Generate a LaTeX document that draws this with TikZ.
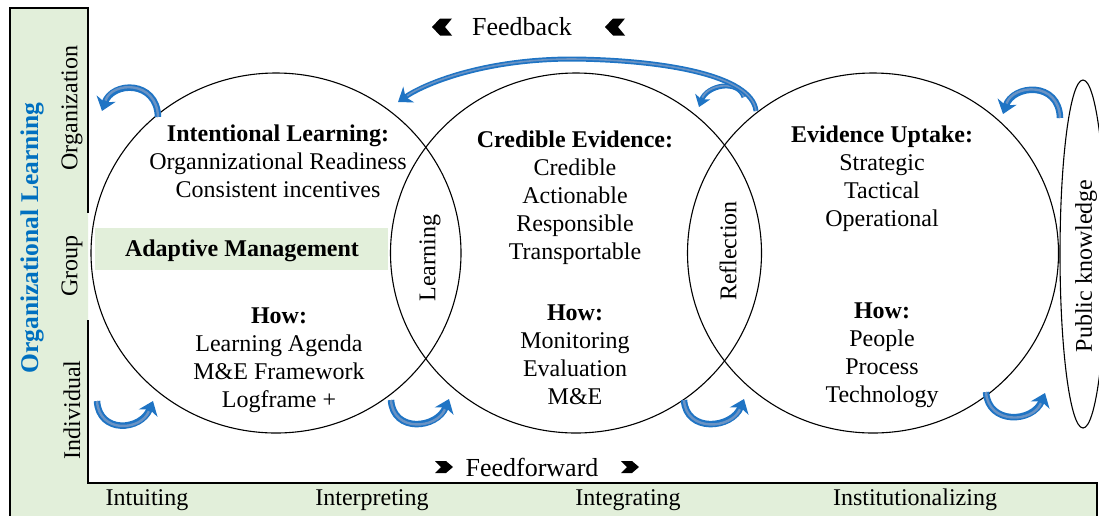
\documentclass[tikz,border=0pt]{standalone}
\usepackage{fontspec}
\setmainfont{Liberation Serif}
\usetikzlibrary{arrows.meta,shapes.geometric}
\definecolor{panelgreen}{HTML}{E2EFDA}
\definecolor{loopblue}{HTML}{1F74C4}
\definecolor{loophi}{HTML}{6A93C4}
\definecolor{titleblue}{HTML}{0070C0}

\begin{document}
\begin{tikzpicture}[x=1pt,y=-1pt,
  txt/.style={font=\fontsize{24}{28}\selectfont, align=center, inner sep=0pt},
  vlabel/.style={txt, rotate=90},
  ring/.style={draw=black, line width=1.1pt, ellipse, inner sep=0pt},
  frame/.style={draw=black, line width=1.2pt},
  loop/.style={draw=loopblue, line width=6.5pt, -{Stealth[length=13pt,width=20pt,inset=4pt]}},
  shine/.style={draw=loophi, line width=2.4pt, shorten >=11pt},
  chev/.style={fill=black}]

\useasboundingbox (0,0) rectangle (1099,515);

% L-shaped green panel on the left and along the bottom
\fill[panelgreen] (10,8) -- (88,8) -- (88,483) -- (1097,483) -- (1097,516) -- (10,516) -- cycle;
\draw[frame] (10,516) -- (10,8) -- (88,8) -- (88,213);
\draw[frame] (88,320) -- (88,483) -- (1097,483) -- (1097,516);

% band behind "Adaptive Management"
\fill[panelgreen] (95,228) rectangle (388,270);

% the three overlapping circles and the public-knowledge ellipse
\node[ring, minimum width=370pt, minimum height=360pt] (circA) at (276,253) {};
\node[ring, minimum width=371pt, minimum height=360pt] (circB) at (576,253) {};
\node[ring, minimum width=371pt, minimum height=360pt] (circC) at (873,253) {};
\node[ring, minimum width=46pt, minimum height=348pt] (pub) at (1083,254) {};
\node[vlabel] (publbl) at (1086,266) {Public knowledge};

% vertical axis labels
\node[vlabel, font=\fontsize{25.5}{28}\selectfont\bfseries, text=titleblue] (orglearn) at (32,238) {Organizational Learning};
\node[vlabel] (lvlorg) at (72,108) {Organization};
\node[vlabel] (lvlgrp) at (72,266) {Group};
\node[vlabel] (lvlind) at (72,410) {Individual};

% horizontal axis labels
\node[txt] (intuit) at (147,500) {Intuiting};
\node[txt] (interp) at (372,500) {Interpreting};
\node[txt] (integ) at (628,500) {Integrating};
\node[txt] (instit) at (915,500) {Institutionalizing};

% circle contents
\node[txt] (aTop) at (278,161) {\textbf{Intentional Learning:}\\Organnizational Readiness\\Consistent incentives};
\node[txt, font=\fontsize{24}{28}\selectfont\bfseries] (adapt) at (242,251) {Adaptive Management};
\node[txt] (aHow) at (279,360) {\textbf{How:}\\Learning Agenda\\M\&E Framework\\Logframe +};

\node[txt] (bTop) at (575,198) {\textbf{Credible Evidence:}\\Credible\\Actionable\\Responsible\\Transportable};
\node[txt] (bHow) at (575,355) {\textbf{How:}\\Monitoring\\Evaluation\\M\&E};

\node[txt] (cTop) at (882,179) {\textbf{Evidence Uptake:}\\Strategic\\Tactical\\Operational};
\node[txt] (cHow) at (882,355) {\textbf{How:}\\People\\Process\\Technology};

% lens labels
\node[vlabel] (lensAB) at (430,258) {Learning};
\node[vlabel] (lensBC) at (728,251) {Reflection};

% feedback / feedforward captions with chevrons
\node[txt, font=\fontsize{26}{28}\selectfont] (fb) at (522,27) {Feedback};
\node[txt, font=\fontsize{26}{28}\selectfont] (ff) at (532,467) {Feedforward};
\coordinate (fbL) at (442,27);
\coordinate (fbR) at (615,27);
\coordinate (ffL) at (444,467);
\coordinate (ffR) at (630,467);
\foreach \c in {fbL,fbR}
  \fill[chev, shift={(\c)}] (-10,0) -- (-2,-8.5) -- (10,-8.5) -- (3,0) -- (10,8.5) -- (-2,8.5) -- cycle;
\foreach \c in {ffL,ffR}
  \fill[chev, shift={(\c)}] (9,0) -- (2,-6) -- (-9,-6) -- (-3,0) -- (-9,6) -- (2,6) -- cycle;

% curved loop arrows
\coordinate (l1s) at (158,117);  \coordinate (l1e) at (102,111);
\coordinate (l2s) at (97,401);   \coordinate (l2e) at (153,401);
\coordinate (l3s) at (391,400);  \coordinate (l3e) at (449,399);
\coordinate (l4s) at (684,400);  \coordinate (l4e) at (744,399);
\coordinate (l5s) at (986,392);  \coordinate (l5e) at (1045,393);
\coordinate (l6s) at (1060,118); \coordinate (l6e) at (1003,114);
\coordinate (l7s) at (744,97);   \coordinate (l7e) at (699,107);
\coordinate (fbs) at (756,111);  \coordinate (fbtop) at (573,59); \coordinate (fbe) at (398,102);

\foreach \s/\e in {l1s/l1e,l6s/l6e}{
  \draw[loop] (\s) .. controls +(-1,-37) and +(10,-30) .. (\e);
  \draw[shine] (\s) .. controls +(-1,-37) and +(10,-30) .. (\e);
}
\foreach \s/\e in {l2s/l2e,l3s/l3e,l4s/l4e,l5s/l5e}{
  \draw[loop] (\s) .. controls +(2,33) and +(-12,30) .. (\e);
  \draw[shine] (\s) .. controls +(2,33) and +(-12,30) .. (\e);
}
\draw[loop, line width=5pt, -{Stealth[length=11pt,width=16pt,inset=3pt]}]
  (l7s) .. controls +(-6,-18) and +(8,-22) .. (l7e);
\draw[shine, line width=1.8pt, shorten >=10pt]
  (l7s) .. controls +(-6,-18) and +(8,-22) .. (l7e);
\draw[loop, line width=5pt, -{Stealth[length=13pt,width=19pt,inset=4pt]}]
  (fbs) .. controls +(-4,-36) and +(90,1) .. (fbtop) .. controls +(-90,0) and +(26,-18) .. (fbe);
\draw[shine, line width=1.6pt]
  (fbs) .. controls +(-4,-36) and +(90,1) .. (fbtop) .. controls +(-90,0) and +(26,-18) .. (fbe);

\end{tikzpicture}
\end{document}
